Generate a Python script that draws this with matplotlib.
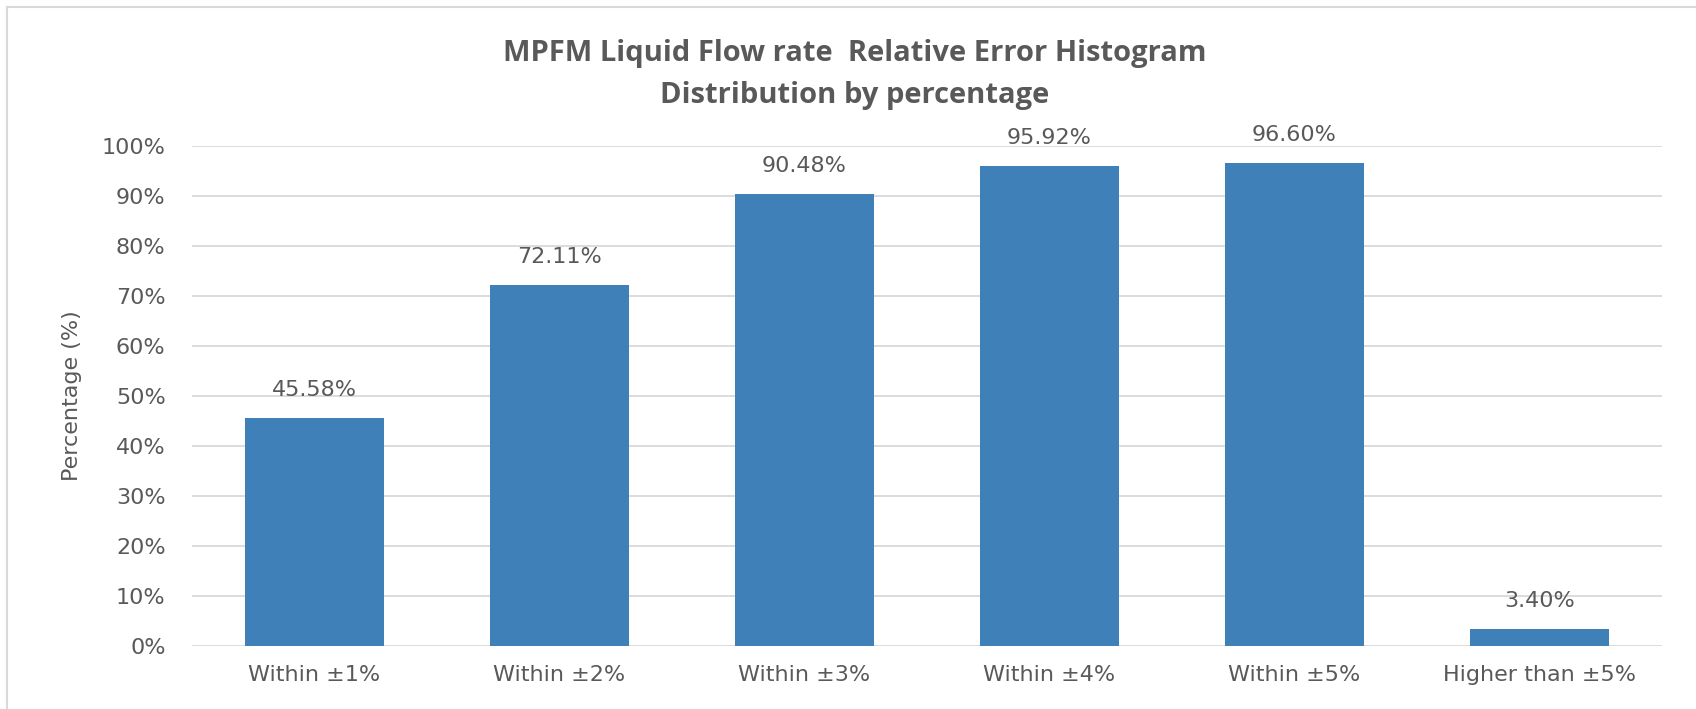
import matplotlib
matplotlib.use("Agg")
import matplotlib.pyplot as plt
from matplotlib.lines import Line2D

categories = ["Within ±1%", "Within ±2%", "Within ±3%", "Within ±4%", "Within ±5%", "Higher than ±5%"]
values = [45.58, 72.11, 90.48, 95.92, 96.60, 3.40]
yticks = [0, 10, 20, 30, 40, 50, 60, 70, 80, 90, 100]
title_lines = ["MPFM Liquid Flow rate  Relative Error Histogram", "Distribution by percentage"]
ylabel = "Percentage (%)"

plt.rcParams['font.family'] = ['DejaVu Sans']
txt = "#595959"
W, H = 1696, 709

fig = plt.figure(figsize=(16.96, 7.09), dpi=100)
ax = fig.add_axes([192/W, 1-646/H, (1662-192)/W, 500/H])

x = list(range(len(categories)))
ax.bar(x, values, width=0.571, color="#3f80b8", zorder=3)
ax.set_xlim(-0.5, len(categories)-0.5)
ax.set_ylim(0, 100)
ax.set_yticks(yticks)
ax.set_yticklabels([f"{v}%" for v in yticks], fontsize=16, color=txt)
ax.set_xticks(x)
ax.set_xticklabels(categories, fontsize=16, color=txt)
ax.tick_params(axis='both', length=0)
ax.tick_params(axis='y', pad=19)
ax.tick_params(axis='x', pad=14)
for s in ax.spines.values():
    s.set_visible(False)
ax.grid(axis='y', color="#d9d9d9", linewidth=1.3, zorder=0)
ax.set_axisbelow(True)

for xi, v in zip(x, values):
    ax.annotate(f"{v:.2f}%", (xi, v), xytext=(0, 13), textcoords='offset points',
                ha='center', va='bottom', fontsize=16, color=txt)

fig.text(72/W, 1-396/H, ylabel, rotation=90, ha='center', va='center',
         fontsize=16, color=txt)

for yy, line in zip([54, 95], title_lines):
    fig.text(855/W, 1-yy/H, line, ha='center', va='center', fontsize=21,
             fontweight='bold', color=txt, family=['Open Sans', 'DejaVu Sans'])

fig.add_artist(Line2D([7/W, 7/W], [0, 1-7/H], transform=fig.transFigure, color="#d9d9d9", lw=1.5))
fig.add_artist(Line2D([7/W, 1], [1-7/H, 1-7/H], transform=fig.transFigure, color="#d9d9d9", lw=1.5))

fig.savefig("out.png", dpi=100)
